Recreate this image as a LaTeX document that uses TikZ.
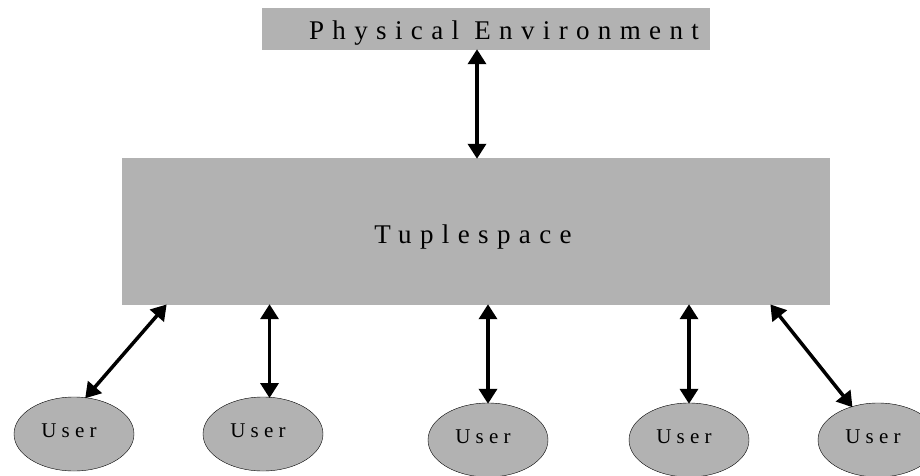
\documentclass[tikz,border=0pt]{standalone}
\usepackage{fontspec}
\setmainfont{Liberation Serif}
\newfontfamily\physfont[LetterSpace=31]{Liberation Serif}
\newfontfamily\tuplefont[LetterSpace=31]{Liberation Serif}
\newfontfamily\userfont[LetterSpace=25]{Liberation Serif}
\usetikzlibrary{arrows.meta,shapes.geometric}

\begin{document}
\begin{tikzpicture}[x=1pt,y=-1pt,
  graybox/.style={fill=black!30,inner sep=0pt},
  user/.style={ellipse,draw=black,thin,fill=black!30,minimum width=120pt,minimum height=74pt,inner sep=0pt,text height=6pt,text depth=0pt,font=\userfont\fontsize{21}{25}\selectfont,execute at begin node=\hspace*{-10pt}},
  link/.style={line width=3.5pt,{Triangle[length=15pt,width=18pt]}-{Triangle[length=15pt,width=18pt]},shorten <=-1pt,shorten >=-1pt}]

\useasboundingbox (0,0) rectangle (920,476);

\node [graybox,minimum width=448pt,minimum height=42pt] (phys) at (486,29) {};
\node [anchor=base,font=\physfont\fontsize{27}{31}\selectfont] (physlabel) at (504,40) {Physical Environment};
\node [graybox,minimum width=708pt,minimum height=147pt] (tuple) at (476,231.5) {};
\node [anchor=base,font=\tuplefont\fontsize{27}{31}\selectfont] (tuplelabel) at (473,243) {Tuplespace};

\node [user] (u1) at (74,434) {User};
\node [user] (u2) at (263,434) {User};
\node [user] (u3) at (488,440) {User};
\node [user] (u4) at (689,440) {User};
\node [user] (u5) at (878,440) {User};

% environment <-> tuplespace
\draw[link] (phys.south -| 477,0) -- (tuple.north -| 477,0);

% users <-> tuplespace
\draw[link] (tuple.south -| 166,0) -- (u1.72);
\draw[link] (tuple.south -| u2.80) -- (u2.80);
\draw[link] (tuple.south -| u3.north) -- (u3.north);
\draw[link] (tuple.south -| u4.north) -- (u4.north);
\draw[link] (tuple.south -| 771,0) -- (u5.128);

\end{tikzpicture}
\end{document}
